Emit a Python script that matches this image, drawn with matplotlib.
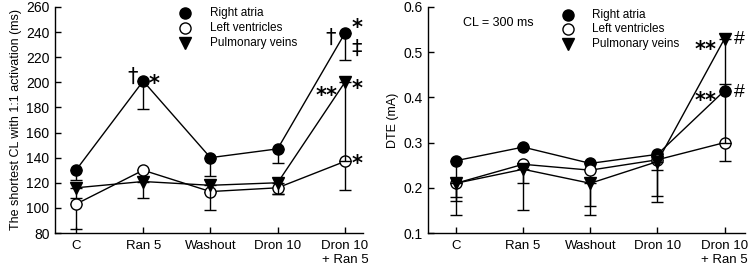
import matplotlib
matplotlib.use("Agg")
import matplotlib.pyplot as plt
import numpy as np

plt.rcParams['font.family'] = ['Liberation Sans', 'DejaVu Sans']

categories = ["C", "Ran 5", "Washout", "Dron 10", "Dron 10\n+ Ran 5"]
series_names = ["Right atria", "Left ventricles", "Pulmonary veins"]

# Left panel: shortest CL with 1:1 activation (ms)
cl_ra = [130, 201, 140, 147, 239]
cl_ra_lo = [8, 22, 15, 11, 21]
cl_ra_hi = [0, 0, 0, 0, 0]
cl_lv = [103, 130, 113, 116, 137]
cl_lv_lo = [20, 0, 0, 5, 23]
cl_lv_hi = [0, 0, 0, 0, 0]
cl_pv = [116, 121, 118, 120, 200]
cl_pv_lo = [8, 13, 20, 9, 63]
cl_pv_hi = [0, 0, 0, 0, 0]

# Right panel: DTE (mA)
dte_ra = [0.26, 0.29, 0.254, 0.274, 0.415]
dte_ra_lo = [0.08, 0.0, 0.0, 0.035, 0.0]
dte_ra_hi = [0.0, 0.0, 0.0, 0.0, 0.015]
dte_lv = [0.21, 0.252, 0.239, 0.262, 0.30]
dte_lv_lo = [0.04, 0.042, 0.079, 0.08, 0.04]
dte_lv_hi = [0.0, 0.0, 0.0, 0.0, 0.0]
dte_pv = [0.21, 0.241, 0.21, 0.258, 0.53]
dte_pv_lo = [0.07, 0.09, 0.07, 0.089, 0.23]
dte_pv_hi = [0.0, 0.0, 0.0, 0.0, 0.0]

fig = plt.figure(figsize=(7.5, 2.67), dpi=100)
axL = fig.add_axes([0.0733, 0.1273, 0.4107, 0.8467])
axR = fig.add_axes([0.5707, 0.1273, 0.4223, 0.8467])

x = np.arange(len(categories))
styles = [dict(marker='o', mfc='black'),
          dict(marker='o', mfc='white'),
          dict(marker='v', mfc='black')]

def draw(ax, data):
    for i in [2, 1, 0]:
        y, lo, hi = data[i]
        ax.errorbar(x, y, yerr=[lo, hi], color='black', lw=1.0,
                    elinewidth=1.0, capsize=4.5, capthick=1.0,
                    ms=8 if styles[i]['marker'] == 'o' else 8.5,
                    mec='black', mew=1.0, zorder=3 + i, **styles[i])

draw(axL, [(cl_ra, cl_ra_lo, cl_ra_hi), (cl_lv, cl_lv_lo, cl_lv_hi),
           (cl_pv, cl_pv_lo, cl_pv_hi)])
draw(axR, [(dte_ra, dte_ra_lo, dte_ra_hi), (dte_lv, dte_lv_lo, dte_lv_hi),
           (dte_pv, dte_pv_lo, dte_pv_hi)])

for ax in (axL, axR):
    for s in ('top', 'right'):
        ax.spines[s].set_visible(False)
    ax.spines['left'].set_linewidth(1.0)
    ax.spines['bottom'].set_linewidth(1.0)
    ax.set_xticks(x)
    ax.set_xticklabels(categories, fontsize=9.5)
    ax.tick_params(axis='y', direction='in', length=4, width=1.0,
                   labelsize=10, pad=4)
    ax.tick_params(axis='x', direction='in', length=4, width=1.0, pad=5)

axL.set_xlim(-0.312, 4.27)
axL.set_ylim(80, 260)
axL.set_yticks(np.arange(80, 261, 20))
axL.set_ylabel("The shortest CL with 1:1 activation (ms)", fontsize=9, labelpad=3)

axR.set_xlim(-0.416, 4.30)
axR.set_ylim(0.1, 0.6)
axR.set_yticks([0.1, 0.2, 0.3, 0.4, 0.5, 0.6])
axR.set_yticklabels(["0.1", "0.2", "0.3", "0.4", "0.5", "0.6"])
axR.set_ylabel("DTE (mA)", fontsize=9, labelpad=3)

# legends (manual, marker + text)
def legend(fig_x_marker, fig_x_text, ys):
    for i, yy in enumerate(ys):
        st = styles[i]
        fig.lines.append(plt.Line2D([fig_x_marker], [yy], transform=fig.transFigure,
                                    marker=st['marker'], mfc=st['mfc'], mec='black',
                                    mew=1.0, ms=8, ls='none'))
        fig.text(fig_x_text, yy, series_names[i], fontsize=8.5, va='center', ha='left')

legend(185 / 750, 210 / 750, [1 - 13 / 267, 1 - 28 / 267, 1 - 43 / 267])
legend(568 / 750, 592 / 750, [1 - 15 / 267, 1 - 29 / 267, 1 - 44 / 267])

axR.text(0.11, 0.93, "CL = 300 ms", transform=axR.transAxes, fontsize=9,
         va='center', ha='left')

# significance annotations: glyph centre placed at (x, value) shifted dx pixels
CENTER = {'*': (0.59, 'DejaVu Sans', 'bold'),
          '†': (0.32, 'DejaVu Sans', 'normal'),
          '‡': (0.32, 'DejaVu Sans', 'normal'),
          '#': (0.36, 'Liberation Sans', 'normal')}

def mark(ax, xv, yv, s, dx_px, size):
    frac, fam, wt = CENTER[s[0]]
    ax.annotate(s, (xv, yv), xytext=(dx_px * 0.72, -frac * size),
                textcoords='offset points', ha='center', va='baseline',
                fontsize=size, family=fam, weight=wt, zorder=10)

mark(axL, x[1], 205, "†", -11, 15)
mark(axL, x[1], 204, "*", 11, 15)
mark(axL, x[4], 236, "†", -14, 15)
mark(axL, x[4], 248, "*", 12, 15)
mark(axL, x[4], 227, "‡", 12, 15)
mark(axL, x[4], 194, "**", -18, 15)
mark(axL, x[4], 200, "*", 12, 15)
mark(axL, x[4], 140, "*", 12, 15)

mark(axR, x[4], 0.518, "**", -19, 15)
mark(axR, x[4], 0.534, "#", 15, 14)
mark(axR, x[4], 0.405, "**", -19, 15)
mark(axR, x[4], 0.416, "#", 15, 14)

fig.savefig("out.png", dpi=100)
